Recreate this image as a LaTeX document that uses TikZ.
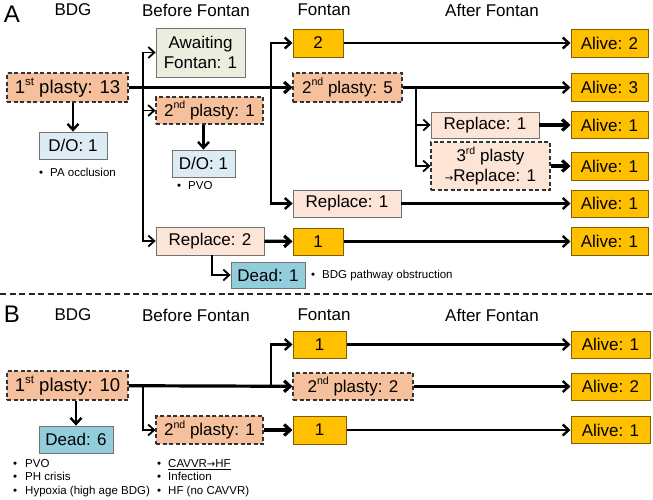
\documentclass[tikz,border=0pt]{standalone}
\usepackage{fontspec}
\setmainfont{Liberation Sans}
\newfontfamily\arrowfont{DejaVu Sans}
\usepackage{xcolor}
\usetikzlibrary{arrows.meta,positioning,calc}
\definecolor{salmon}{HTML}{F6C09C}
\definecolor{peach}{HTML}{FCE4D6}
\definecolor{sage}{HTML}{EBEDDF}
\definecolor{paleblue}{HTML}{DDEBF4}
\definecolor{deadblue}{HTML}{92CDDC}
\definecolor{fontanorange}{HTML}{FFC000}
\definecolor{fontanrim}{HTML}{7F6000}
\newcommand{\rarr}{{\arrowfont\fontsize{10}{10}\selectfont →}}
\newcommand{\ordsup}[1]{\raisebox{0.42em}{\fontsize{0.62em}{0.62em}\selectfont #1}}

\begin{document}
\begin{tikzpicture}[x=1pt,y=-1pt,
	box/.style={draw=black!55,line width=0.8pt,inner sep=0pt,align=center,
		font=\fontsize{17}{20}\selectfont,minimum height=27pt},
	dashbox/.style={box,draw=black!80,line width=1.1pt,dash pattern=on 4pt off 2.5pt},
	bigtext/.style={font=\fontsize{18.5}{21}\selectfont},
	fontanbox/.style={box,fill=fontanorange,draw=fontanrim,line width=1pt},
	alivebox/.style={fontanbox,minimum width=77pt},
	header/.style={font=\fontsize{17}{20}\selectfont},
	panel/.style={font=\fontsize{24}{26}\selectfont},
	note/.style={anchor=west,align=left,inner sep=0pt,font=\fontsize{11.5}{13.5}\selectfont},
	thin/.style={-{Straight Barb[length=6pt,width=11pt]},line width=1.8pt},
	mid/.style={-{Straight Barb[length=6pt,width=11pt]},line width=2.4pt},
	thick/.style={-{Straight Barb[length=6pt,width=11pt]},line width=3.2pt}]
	\useasboundingbox (0,0) rectangle (653,499);
	%\draw[help lines,step=20] (0,0) grid (653,499);
	% A 部分
	\node[panel] (labA) at (12,14) {A};
	\node[header] (hA1) at (73,10) {BDG};
	\node[header] (hA2) at (196,10) {Before Fontan};
	\node[header] (hA3) at (324,10) {Fontan};
	\node[header] (hA4) at (492,10) {After Fontan};
	\node[dashbox,bigtext,fill=salmon,minimum width=121pt,minimum height=29pt] (t1) at (67.5,87.5) {1\ordsup{st} plasty: 13};
	\node[box,fill=paleblue,minimum width=68pt] (do1) at (73,145.5) {D/O: 1};
	\node[note] (do1n) at (39,172) {\textbullet\hspace{7pt}PA occlusion};
	\node[box,fill=sage,minimum width=89pt,minimum height=49pt] (aw) at (200.5,52.5) {Awaiting\\Fontan: 1};
	\node[dashbox,fill=salmon,minimum width=107pt] (p2a) at (209.5,110.5) {2\ordsup{nd} plasty: 1};
	\node[box,fill=paleblue,minimum width=63pt] (do2) at (203.5,163.5) {D/O: 1};
	\node[note] (do2n) at (177,186) {\textbullet\hspace{7pt}PVO};
	\node[box,fill=peach,minimum width=108pt,minimum height=28pt] (rp2) at (210,241) {Replace: 2};
	\node[box,fill=deadblue,minimum width=74pt,minimum height=26pt] (dead1) at (268,275) {Dead: 1};
	\node[note] (dead1n) at (311,276) {\textbullet\hspace{7pt}BDG pathway obstruction};
	\node[fontanbox,minimum width=50pt,minimum height=28pt] (f2) at (318,43) {2};
	\node[dashbox,fill=salmon,minimum width=109pt,minimum height=29pt] (p2b) at (347.5,87.5) {2\ordsup{nd} plasty: 5};
	\node[box,fill=peach,minimum width=108pt] (rp1b) at (347,203.5) {Replace: 1};
	\node[fontanbox,minimum width=50pt] (f1) at (318,241.5) {1};
	\node[box,fill=peach,minimum width=108pt,minimum height=26pt] (rp1a) at (485,125) {Replace: 1};
	\node[dashbox,fill=peach,minimum width=119pt,minimum height=48pt] (p3) at (490.5,166) {3\ordsup{rd} plasty\\\rarr Replace: 1};
	\node[alivebox,minimum height=28pt] (al1) at (609.5,43) {Alive: 2};
	\node[alivebox,minimum height=28pt] (al2) at (609.5,87.5) {Alive: 3};
	\node[alivebox] (al3) at (609.5,125) {Alive: 1};
	\node[alivebox,minimum height=28pt] (al4) at (609.5,166) {Alive: 1};
	\node[alivebox] (al5) at (609.5,203.5) {Alive: 1};
	\node[alivebox,minimum height=28pt] (al6) at (609.5,241.5) {Alive: 1};
	\coordinate (brA1) at (143,87.5);
	\coordinate (brA2) at (271,87.5);
	\coordinate (brA3) at (416,87.5);
	\draw[thick] (t1) -- (p2b);
	\draw[mid] (do1.north |- t1.south) -- (do1.north);
	\draw[thin] (brA1) |- (aw.west);
	\draw[thin] (brA1) |- (p2a.west);
	\draw[thin] (brA1) |- (rp2.west);
	\draw[mid] (do2.north |- p2a.south) -- (do2.north);
	\draw[mid] (brA2) |- (f2.west);
	\draw[mid] (brA2) |- (rp1b.west);
	\draw[mid] (f2) -- (al1);
	\draw[mid] (p2b) -- (al2);
	\draw[thin] (brA3) |- (rp1a.west);
	\draw[thin] (brA3) |- (p3.west);
	\draw[thick] (rp1a) -- (al3);
	\draw[thick] (p3) -- (al4);
	\draw[mid] (rp1b) -- (al5);
	\draw[thick] (rp2) -- (f1);
	\draw[mid] (f1) -- (al6);
	\draw[thin] ([xshift=2pt]rp2.south) |- (dead1.west);
	% 分隔线
	\coordinate (sepL) at (0,294);
	\coordinate (sepR) at (653,294);
	\draw[line width=1.3pt,dash pattern=on 6pt off 3.5pt,black!85] (sepL) -- (sepR);
	% B 部分
	\node[panel] (labB) at (12,314) {B};
	\node[header] (hB1) at (73,315) {BDG};
	\node[header] (hB2) at (196,315) {Before Fontan};
	\node[header] (hB3) at (324,315) {Fontan};
	\node[header] (hB4) at (492,315) {After Fontan};
	\node[dashbox,bigtext,fill=salmon,minimum width=121pt,minimum height=29pt] (q1) at (67.5,385.5) {1\ordsup{st} plasty: 10};
	\node[box,fill=deadblue,minimum width=74pt] (dead6) at (76,439.5) {Dead: 6};
	\node[note,font=\fontsize{11.5}{13.2}\selectfont] (dead6n) at (13,478) {\textbullet\hspace{8pt}PVO\\\textbullet\hspace{8pt}PH crisis\\\textbullet\hspace{8pt}Hypoxia (high age BDG)};
	\node[dashbox,fill=salmon,minimum width=107pt,minimum height=28pt] (qp1) at (209.5,430) {2\ordsup{nd} plasty: 1};
	\node[note,font=\fontsize{11.5}{13.2}\selectfont] (qp1n) at (157,478) {\textbullet\hspace{7pt}\underline{CAVVR\rarr HF}\\\textbullet\hspace{7pt}Infection\\\textbullet\hspace{7pt}HF (no CAVVR)};
	\node[fontanbox,minimum width=53pt] (g1a) at (319.5,344.5) {1};
	\node[dashbox,fill=salmon,minimum width=120pt] (qp2) at (353,386.5) {2\ordsup{nd} plasty: 2};
	\node[fontanbox,minimum width=53pt,minimum height=28pt] (g1b) at (319.5,430) {1};
	\node[alivebox,minimum width=79pt] (bl1) at (610.5,344.5) {Alive: 1};
	\node[alivebox,minimum width=79pt] (bl2) at (610.5,386.5) {Alive: 2};
	\node[alivebox,minimum width=79pt] (bl3) at (610.5,430) {Alive: 1};
	\coordinate (brB1) at (143,385.5);
	\coordinate (brB2) at (271,385.5);
	\draw[thick] (q1) -- (qp2);
	\draw[mid] (q1.south -| dead6.north) -- (dead6.north);
	\draw[thin] (brB1) |- (qp1.west);
	\draw[mid] (brB2) |- (g1a.west);
	\draw[mid] (g1a) -- (bl1);
	\draw[mid] (qp2) -- (bl2);
	\draw[thick] (qp1) -- (g1b);
	\draw[mid] (g1b) -- (bl3);
\end{tikzpicture}
\end{document}
